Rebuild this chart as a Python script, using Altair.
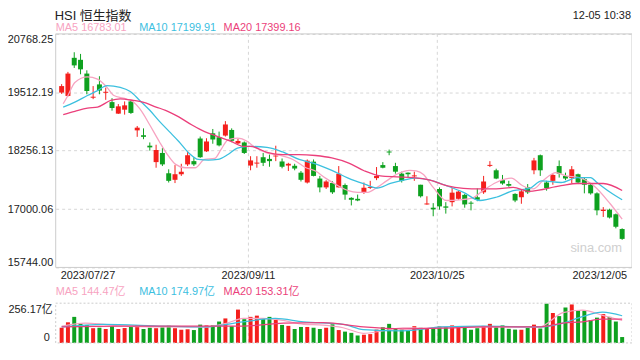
import altair as alt
import pandas as pd

# ---------------- data ----------------
idx = list(range(90))
opens = [19506,19434,20254,20211,19915,19396,19682,19502,19301,19053,
         19138,19316,18693,18588,18363,18010,18207,17770,17629,17749,
         17961,18031,18518,18242,18630,18545,18581,18702,18412,18433,
         17936,17978,18115,18079,18132,18024,17936,17931,17783,17571,
         18020,17656,17466,17561,17466,17518,17241,17220,17364,17455,
         17665,17946,18238,17925,17762,17783,17703,17523,17099,17029,
         17432,17057,17148,17220,17305,17137,17254,17360,17929,17834,
         17622,17538,17326,17254,17466,17834,18158,17571,17607,17925,
         17713,17665,17749,17643,17523,17338,16958,16987,16888,16570]
highs = [19688,19951,20374,20338,19985,19646,19858,19612,19386,19259,
         19316,19350,18787,18736,18433,18384,18312,17855,17946,17974,
         18242,18115,18560,18524,18723,18666,18892,18736,18511,18454,
         18137,18137,18207,18173,18363,18088,17995,17974,17819,18067,
         18067,17713,17622,17601,17925,17550,17254,17311,17571,17607,
         17904,18010,18279,17995,17804,17787,17804,17523,17275,17127,
         17466,17148,17453,17396,17326,17169,17444,17713,18031,17868,
         17734,17607,17339,17410,17538,18101,18173,17607,17762,18046,
         17783,17925,17762,17677,17538,17360,17042,17008,16903,16585]
lows = [19477,19422,20036,19900,19470,19365,19470,19350,19117,19047,
        19032,19047,18554,18503,18257,17889,17925,17571,17559,17713,
        17925,17925,18101,18228,18405,18348,18560,18439,18397,18185,
        17834,17889,17925,17910,18031,17876,17819,17834,17593,17550,
        17703,17360,17432,17326,17466,17199,17078,17169,17326,17432,
        17622,17876,18158,17762,17571,17677,17607,17248,17093,16845,
        16987,16902,17057,17199,17029,16972,17169,17326,17904,17643,
        17523,17480,17148,17114,17326,17749,17713,17396,17523,17677,
        17622,17550,17538,17338,17311,16866,16830,16797,16585,16337]
closes = [19646,19915,20091,20006,19540,19417,19549,19523,19174,19210,
          19231,19068,18751,18554,18327,18270,17961,17607,17749,17804,
          18158,17961,18115,18454,18497,18370,18820,18469,18465,18207,
          18046,17999,17995,18031,18151,17910,17974,17872,17629,18041,
          17713,17466,17593,17360,17760,17311,17199,17184,17459,17476,
          17713,17889,18217,17804,17607,17749,17724,17275,17120,16993,
          17057,17029,17353,17375,17099,17116,17199,17593,17950,17656,
          17550,17502,17184,17381,17360,18046,17834,17453,17734,17762,
          17656,17855,17571,17523,17338,16972,16987,16818,16619,16358]
volumes = [98,133,168,123,116,95,98,90,108,90,
           96,103,113,90,98,95,101,111,95,85,
           88,83,118,113,113,138,158,108,215,153,
           168,176,155,168,148,116,110,90,103,103,
           98,90,98,120,83,73,65,48,53,57,
           86,101,123,91,85,81,108,98,91,98,
           108,103,113,103,98,85,95,110,123,101,
           113,91,86,85,96,118,93,253,193,173,
           228,248,211,208,148,163,186,168,138,38]

ma5_i = [0.25,1.0,2.1,4.1,5.7,7.2,8.3,9.8,11.4,12.4,14.0,15.5,16.8,18.1,19.6,
         21.2,22.7,24.3,25.3,26.4,27.9,29.5,30.5,32.6,34.6,36.7,38.8,40.3,41.9,43.9,
         45.5,47.0,48.6,50.1,51.6,53.2,55.3,56.3,57.4,59.0,61.1,63.2,65.3,66.9,69.0,
         71.4,73.2,74.9,76.4,78.5,80.1,82.2,84.5,87.1,89]
ma5_v = [19265,19443,19724,19845,19794,19619,19443,19386,19301,19159,18808,18454,18173,17961,17889,
         17889,18067,18088,18278,18490,18526,18454,18348,18207,18158,18067,17889,17819,17665,17502,
         17396,17360,17360,17466,17607,17749,17834,17819,17749,17466,17184,17199,17241,17396,17571,
         17665,17502,17432,17607,17783,17713,17677,17502,17114,16783]
ma10_i = [0.25,2.1,4.1,5.7,7.2,9.3,10.9,12.4,14.0,15.5,17.1,18.6,20.2,21.7,23.3,
          24.8,26.4,27.9,29.7,32.6,35.1,37.7,40.3,42.9,45.5,48.1,50.1,52.2,54.3,56.3,
          58.5,61.1,63.8,66.4,69.0,71.7,74.3,76.2,79.3,81.9,84.0,85.0,87.1,89]
ma10_v = [19195,19301,19443,19549,19655,19619,19528,19337,19125,18892,18666,18454,18207,18067,18052,
          18067,18173,18312,18348,18327,18228,18067,17974,17834,17665,17538,17453,17550,17622,17665,
          17622,17502,17360,17184,17254,17396,17444,17607,17571,17677,17677,17571,17360,17200]
ma20_i = [0.25,2.1,4.1,5.7,7.8,9.3,11.4,12.9,15.0,16.5,18.6,20.7,22.7,24.8,26.9,
          28.9,30.0,32.6,35.1,37.7,40.3,42.9,45.5,48.1,50.6,53.2,55.8,58.5,61.1,63.8,
          66.4,69.0,71.7,74.2,79.3,81.9,86.0,89]
ma20_v = [19032,19104,19174,19195,19337,19371,19337,19301,19195,19125,18983,18808,18666,18560,18454,
          18348,18348,18221,18173,18173,18152,18101,17995,17819,17713,17692,17677,17622,17502,17444,
          17432,17432,17466,17381,17502,17550,17550,17399]

vma5_i = [0,3.8,6.7,9.8,16.2,22.5,26.3,28.8,32,35.2,38.4,41.5,44.7,47.9,51,
          54.2,57.4,60.6,63.7,66.9,73.3,75.8,79.6,82.7,85.9,89]
vma5_v = [108,128,120,108,103,101,128,158,158,145,120,115,98,62,78,
          98,95,103,103,103,103,103,195,211,178,144.47]
vma10_i = [0,6.7,16.2,22.5,28.8,33.9,38.4,44.7,47.9,54.2,60.6,66.9,75.8,79.6,82.7,85.9,89]
vma10_v = [103,120,108,103,136,158,136,120,86,78,103,108,103,128,170,198,174.97]
vma20_i = [0,9.8,22.5,28.8,35.2,41.5,47.9,54.2,60.6,66.9,75.8,79.6,82.7,85.9,89]
vma20_v = [103,108,108,108,128,131,103,91,95,103,103,128,136,153,153.31]

price_ticks = [15744.00, 17000.06, 18256.13, 19512.19, 20768.25]
date_labels = ["2023/07/27", "2023/09/11", "2023/10/25", "2023/12/05"]
date_pos = [-0.155, 29.66, 59.65, 89.775]
vol_max = 256.17

title_text = "HSI 恒生指数"
time_text = "12-05 10:38"
ma_names = ["MA5", "MA10", "MA20"]
ma_last = ["16783.01", "17199.91", "17399.16"]
vma_last = ["144.47亿", "174.97亿", "153.31亿"]

# ---------------- styling ----------------
RED = "#f41f1c"
GREEN = "#0ea11f"
MA_COL = ["#f7a3c1", "#3cc0df", "#eb3f7b"]
TXT = "#222222"
FONT = "'Liberation Sans', Arial, 'Noto Sans CJK SC', sans-serif"
W = 580
PH = 235           # price panel height
VT, VB = 271, 311  # volume panel top / bottom
H = 311

df = pd.DataFrame({"i": idx, "open": opens, "high": highs, "low": lows,
                   "close": closes, "vol": volumes})
df["dir"] = ["up" if c >= o else "down" for o, c in zip(opens, closes)]

xs = alt.Scale(domain=[date_pos[0], date_pos[-1]], nice=False, zero=False)
ys = alt.Scale(domain=[price_ticks[0], price_ticks[-1]], range=[PH, 0], nice=False, zero=False)
vs = alt.Scale(domain=[0, vol_max], range=[VB, VT], nice=False, zero=False)
col = alt.Color("dir:N", scale=alt.Scale(domain=["up", "down"], range=[RED, GREEN]), legend=None)
X = alt.X("i:Q", scale=xs, axis=None)

yaxis = alt.Axis(values=price_ticks, format=".2f", labelFlush=True, grid=True,
                 gridDash=[3, 3], gridColor="#d6d6d6", domain=False, ticks=False,
                 labelPadding=3, labelFontSize=11, labelColor=TXT, labelFont=FONT, title=None)

base = alt.Chart(df)
wick = base.mark_rule(strokeWidth=1).encode(
    x=X, y=alt.Y("low:Q", scale=ys, axis=yaxis), y2="high:Q", color=col)
body = base.mark_bar(size=5).encode(
    x=X, y=alt.Y("open:Q", scale=ys, axis=yaxis), y2="close:Q", color=col)

def ma_line(ii, vv, color, scale, axis, width):
    d = pd.DataFrame({"i": ii, "v": vv})
    enc_y = alt.Y("v:Q", scale=scale, axis=axis) if axis is not None else alt.Y("v:Q", scale=scale, axis=None)
    return alt.Chart(d).mark_line(strokeWidth=width, interpolate="monotone", color=color).encode(
        x=X, y=enc_y)

ma_lines = [ma_line(ma5_i, ma5_v, MA_COL[0], ys, yaxis, 1.3),
            ma_line(ma10_i, ma10_v, MA_COL[1], ys, yaxis, 1.3),
            ma_line(ma20_i, ma20_v, MA_COL[2], ys, yaxis, 1.3)]

frame = alt.Chart(pd.DataFrame({"a": [0]})).mark_rect(
    fill="transparent", stroke="#cccccc", strokeWidth=1).encode(
    x=alt.value(0), x2=alt.value(W), y=alt.value(0), y2=alt.value(PH))

vgrid_df = pd.DataFrame({"p": date_pos[1:3]})
vgrid_price = alt.Chart(vgrid_df).mark_rule(strokeDash=[3, 3], color="#d6d6d6").encode(
    x=alt.X("p:Q", scale=xs, axis=None), y=alt.value(0), y2=alt.value(PH))

watermark = alt.Chart(pd.DataFrame({"t": ["sina.com"]})).mark_text(
    fontSize=13, color="#cfcfcf", font=FONT, align="right", baseline="middle").encode(
    x=alt.value(W - 10), y=alt.value(PH - 20), text="t:N")

price = alt.layer(vgrid_price, wick, body, *ma_lines)

# volume panel
vbars = base.mark_bar(size=4).encode(
    x=X, y=alt.Y("vol:Q", scale=vs, axis=None), y2=alt.datum(0), color=col)
vma_lines = [ma_line(vma5_i, vma5_v, MA_COL[0], vs, None, 1.2),
             ma_line(vma10_i, vma10_v, MA_COL[1], vs, None, 1.2),
             ma_line(vma20_i, vma20_v, MA_COL[2], vs, None, 1.2)]
vframe = alt.Chart(pd.DataFrame({"a": [0]})).mark_rect(
    fill="transparent", stroke="#cccccc", strokeWidth=1, strokeDash=[2, 2]).encode(
    x=alt.value(0), x2=alt.value(W), y=alt.value(VT), y2=alt.value(VB))
vgrid_vol = alt.Chart(vgrid_df).mark_rule(strokeDash=[3, 3], color="#d6d6d6").encode(
    x=alt.X("p:Q", scale=xs, axis=None), y=alt.value(VT), y2=alt.value(VB))
vlab_df = pd.DataFrame({"v": [vol_max, 0], "t": [f"{vol_max:.2f}亿", "0"]})
vlab_top = alt.Chart(vlab_df.iloc[[0]]).mark_text(
    align="right", baseline="top", fontSize=11, color=TXT, font=FONT, dx=-3, dy=1).encode(
    x=alt.value(0), y=alt.Y("v:Q", scale=vs, axis=None), text="t:N")
vlab_bot = alt.Chart(vlab_df.iloc[[1]]).mark_text(
    align="right", baseline="bottom", fontSize=11, color=TXT, font=FONT, dx=-6).encode(
    x=alt.value(0), y=alt.Y("v:Q", scale=vs, axis=None), text="t:N")

volume = alt.layer(vgrid_vol, vbars, *vma_lines, vlab_top, vlab_bot)

# date labels
dates_df = pd.DataFrame({"p": date_pos, "t": date_labels})
def date_text(rows, align):
    return alt.Chart(dates_df.iloc[rows]).mark_text(
        align=align, baseline="middle", fontSize=11, color=TXT, font=FONT).encode(
        x=alt.X("p:Q", scale=xs, axis=None), y=alt.value(PH + 9), text="t:N")
dates = alt.layer(date_text([0], "left"), date_text([1, 2], "center"), date_text([3], "right"))

# header texts
def label(text, x, y, color, size=11, align="left"):
    return alt.Chart(pd.DataFrame({"t": [text]})).mark_text(
        align=align, baseline="middle", fontSize=size, color=color, font=FONT).encode(
        x=alt.value(x), y=alt.value(y), text="t:N")

legend_x = [0, 84, 169]
headers = [label(title_text, -1, -18.5, TXT, 13),
           label(time_text, W - 1, -18, TXT, 11, "right")]
for k in range(3):
    headers.append(label(f"{ma_names[k]} {ma_last[k]}", legend_x[k], -5.5, MA_COL[k]))
    headers.append(label(f"{ma_names[k]} {vma_last[k]}", legend_x[k], PH + 25, MA_COL[k]))

chart = alt.layer(price, volume, frame, vframe, watermark, dates, *headers).resolve_scale(
    y="independent").properties(
    width=W, height=H,
    autosize=alt.AutoSizeParams(type="none"),
    padding={"left": 48, "top": 25, "right": 0, "bottom": 3},
).configure_view(stroke="transparent")

chart.save("out.html", embed_options={"renderer": "svg", "actions": False})
